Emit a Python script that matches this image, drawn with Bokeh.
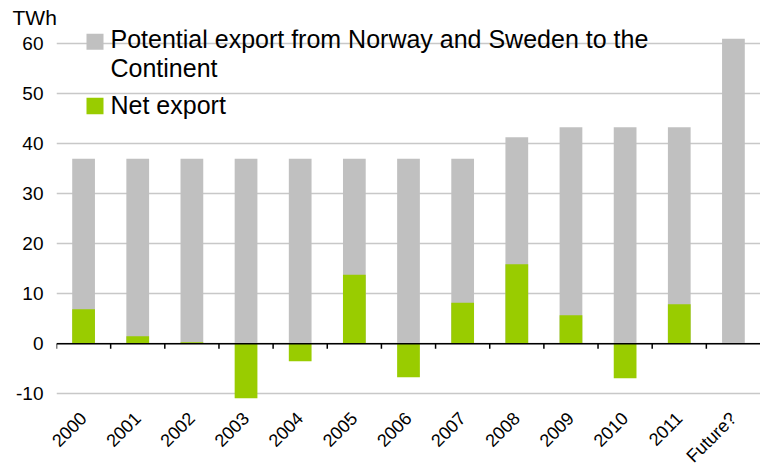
from math import pi
from bokeh.plotting import figure
from bokeh.models import (ColumnDataSource, FixedTicker, Span, Label, BoxAnnotation,
                          PrintfTickFormatter)
from bokeh.transform import dodge
from bokeh.embed import file_html
from bokeh.resources import INLINE

categories = ["2000", "2001", "2002", "2003", "2004", "2005", "2006",
              "2007", "2008", "2009", "2010", "2011", "Future?"]
potential_export = [37, 37, 37, 37, 37, 37, 37, 37, 41.3, 43.3, 43.3, 43.3, 61]
net_export = [6.9, 1.5, 0.3, -10.9, -3.5, 13.8, -6.7, 8.2, 15.9, 5.7, -6.9, 7.9, float("nan")]
y_ticks = [-10, 0, 10, 20, 30, 40, 50, 60]

GRAY = "#c0c0c0"
GREEN = "#99cc00"
FONT = "Liberation Sans"

src = ColumnDataSource(dict(cat=categories, pot=potential_export, net=net_export,
                            base=[0] * len(categories)))

p = figure(x_range=categories, y_range=(-11.14, 62.86),
           frame_width=704, frame_height=370,
           min_border_left=56, min_border_right=0, min_border_top=29, min_border_bottom=40,
           output_backend="svg", toolbar_location=None, tools="",
           title="TWh")
p.outline_line_color = None
p.background_fill_color = "white"
p.border_fill_color = "white"

p.title.text_font = FONT
p.title.text_font_size = "21px"
p.title.text_font_style = "normal"
p.title.text_color = "black"
p.title.align = "left"
p.title.offset = -44
p.title.standoff = 2

p.xgrid.grid_line_color = None
p.ygrid.ticker = FixedTicker(ticks=y_ticks)
p.ygrid.grid_line_color = "#c8c8c8"
p.ygrid.grid_line_width = 1.5

p.yaxis.ticker = FixedTicker(ticks=y_ticks)
p.yaxis.formatter = PrintfTickFormatter(format="%d")
p.yaxis.axis_line_color = None
p.yaxis.major_tick_line_color = None
p.yaxis.minor_tick_line_color = None
p.yaxis.major_tick_in = 0
p.yaxis.major_tick_out = 0
p.yaxis.major_label_standoff = 13
p.yaxis.major_label_text_font = FONT
p.yaxis.major_label_text_font_size = "19px"
p.yaxis.major_label_text_color = "black"

p.xaxis.axis_line_color = None
p.xaxis.major_tick_line_color = None
p.xaxis.major_tick_in = 0
p.xaxis.major_tick_out = 0
p.xaxis.major_label_orientation = pi / 4
p.xaxis.major_label_standoff = 16
p.xaxis.major_label_text_font = FONT
p.xaxis.major_label_text_font_size = "18px"
p.xaxis.major_label_text_color = "black"

p.vbar(x="cat", top="pot", bottom="base", width=0.42, source=src,
       fill_color=GRAY, line_color=None)
p.vbar(x="cat", top="net", bottom="base", width=0.42, source=src,
       fill_color=GREEN, line_color=None)

# zero line and category boundary ticks
p.add_layout(Span(location=0, dimension="width", line_color="black", line_width=1.5))
p.segment(x0=dodge("cat", -0.5, range=p.x_range), y0="base",
          x1=dodge("cat", -0.5, range=p.x_range), y1=-1,
          source=src, line_color="black", line_width=1.5)

# legend drawn by hand (two-line label)
p.add_layout(BoxAnnotation(left=0.554, right=0.868, top=62.0, bottom=58.8,
                           fill_color=GRAY, fill_alpha=1, line_color=None))
p.add_layout(BoxAnnotation(left=0.554, right=0.868, top=49.2, bottom=45.9,
                           fill_color=GREEN, fill_alpha=1, line_color=None))
p.add_layout(Label(x=0.997, y=61.0, text="Potential export from Norway and Sweden to the",
                   text_font=FONT, text_font_size="25px", text_color="black",
                   text_baseline="alphabetic"))
p.add_layout(Label(x=0.997, y=55.1, text="Continent",
                   text_font=FONT, text_font_size="25px", text_color="black",
                   text_baseline="alphabetic"))
p.add_layout(Label(x=0.997, y=47.8, text="Net export",
                   text_font=FONT, text_font_size="25px", text_color="black",
                   text_baseline="alphabetic"))

open("out.html", "w").write(file_html(p, INLINE))
